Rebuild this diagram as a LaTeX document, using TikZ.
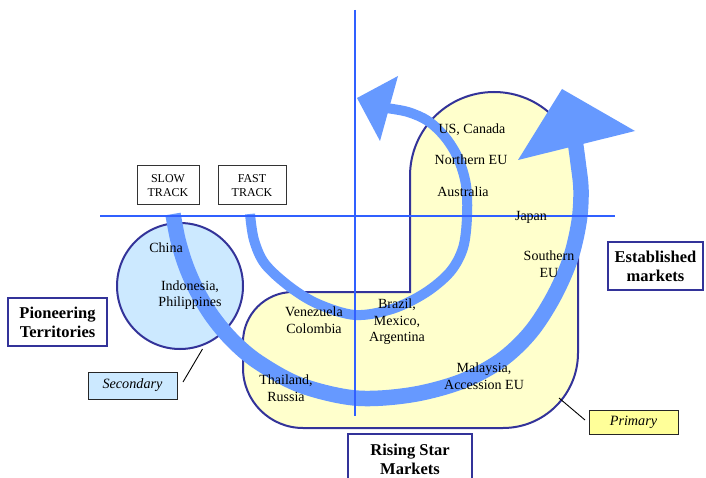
\documentclass[tikz,border=0pt]{standalone}
\usepackage{fontspec}
\setmainfont{Liberation Serif}
\definecolor{arrowblue}{HTML}{6699FF}
\definecolor{axisblue}{HTML}{3060FF}
\definecolor{bord}{HTML}{333399}
\definecolor{yelfill}{HTML}{FFFFCC}
\definecolor{lbluefill}{HTML}{CCE9FF}
\definecolor{pyel}{HTML}{FFFF99}
\tikzset{
  lbl/.style={font=\fontsize{14}{16.5}\selectfont, align=center, inner sep=0pt},
  bigbox/.style={draw=bord, line width=1.6pt, fill=white, font=\bfseries\fontsize{16.5}{19}\selectfont, align=center, inner sep=0pt},
  trackbox/.style={draw=black!80, line width=1pt, fill=white, font=\fontsize{12}{14}\selectfont, align=center, inner sep=0pt, minimum width=62pt, minimum height=39pt},
  tagbox/.style={draw=black!85, line width=1pt, font=\itshape\fontsize{14.2}{16}\selectfont, inner sep=0pt, minimum width=89pt},
  region/.style={draw=bord, line width=2pt},
  band/.style={draw=arrowblue, line cap=butt},
  axis/.style={draw=axisblue, line width=1.2pt},
}
\begin{document}
\begin{tikzpicture}[x=1pt,y=-1pt]
\useasboundingbox (0,0) rectangle (706,478);
\clip (0,0) rectangle (706,478);
\fill[white] (0,0) rectangle (706,478);

% primary region
\path[region, fill=yelfill] (410,176) arc[start angle=180,end angle=360,radius=84]
  -- (578,353) arc[start angle=0,end angle=90,radius=75]
  -- (303,428) arc[start angle=90,end angle=180,radius=60]
  -- (243,342) arc[start angle=180,end angle=270,radius=50]
  -- (410,292) -- cycle;

% secondary circle
\node[region, fill=lbluefill, circle, minimum size=126pt, inner sep=0pt] (sec) at (180,286) {};

% outer (slow track) arrow
\draw[band, line width=15.5pt] plot[smooth, tension=0.55] coordinates {
  (173,214) (178,240) (186,266) (197,291) (212,316) (232,340) (258,362) (300,385)
  (355,398) (410,395) (460,382) (500,361) (530,333) (553,298) (570,260) (579,222)
  (581,190) (578,162) (575,140)};
\fill[arrowblue] (518,160) -- (562,89) -- (635,131) -- cycle;

% inner (fast track) arrow
\draw[band, line width=10pt] plot[smooth, tension=0.55] coordinates {
  (250,214) (254,240) (265,264) (290,287) (318,304) (355,315) (392,309) (425,293)
  (450,272) (463,248) (467,217) (466,185) (458,158) (445,137) (428,121) (408,112) (386,108)};
\fill[arrowblue] (398,76) -- (357,98) -- (380,141) -- cycle;

% axes
\draw[axis] (355,10) -- (355,416);
\draw[axis] (100,216) -- (615,216);

% track boxes
\node[trackbox] (slow) at (168,185.5) {SLOW\\TRACK};
\node[trackbox, minimum width=68pt] (fast) at (252,185.5) {FAST\\TRACK};

% country labels
\node[lbl] (china) at (166,248) {China};
\node[lbl] (indo) at (190,295) {Indonesia,\\Philippines};
\node[lbl] (us) at (472,130) {US, Canada};
\node[lbl] (neu) at (471,160) {Northern EU};
\node[lbl] (aus) at (463,192) {Australia};
\node[lbl] (jap) at (531,217) {Japan};
\node[lbl] (seu) at (549,264) {Southern\\EU};
\node[lbl] (ven) at (314,320) {Venezuela\\Colombia};
\node[lbl] (bra) at (397,322) {Brazil,\\Mexico,\\Argentina};
\node[lbl] (tha) at (286,388) {Thailand,\\Russia};
\node[lbl] (mal) at (484,376) {Malaysia,\\Accession EU};

% category boxes
\node[bigbox, minimum width=99pt, minimum height=48pt] (pion) at (57.5,322) {Pioneering\\Territories};
\node[bigbox, minimum width=95pt, minimum height=48pt] (estab) at (655.5,266) {Established\\markets};
\node[bigbox, minimum width=124pt, minimum height=70pt] (risebox) at (410,469) {};
\node[font=\bfseries\fontsize{16.5}{19}\selectfont, align=center, inner sep=0pt] (rise) at (410,459.5) {Rising Star\\Markets};

% tags
\node[tagbox, fill=lbluefill, minimum height=27pt] (secondary) at (132.5,385.5) {Secondary};
\node[tagbox, fill=pyel, minimum height=24pt] (primary) at (633.5,422) {Primary};
\coordinate (secA) at (183,382);
\coordinate (secB) at (202.5,349);
\coordinate (priA) at (559,398);
\coordinate (priB) at (585,420);
\draw[black, line width=0.9pt] (secA) -- (secB);
\draw[black, line width=0.9pt] (priA) -- (priB);
\end{tikzpicture}
\end{document}
